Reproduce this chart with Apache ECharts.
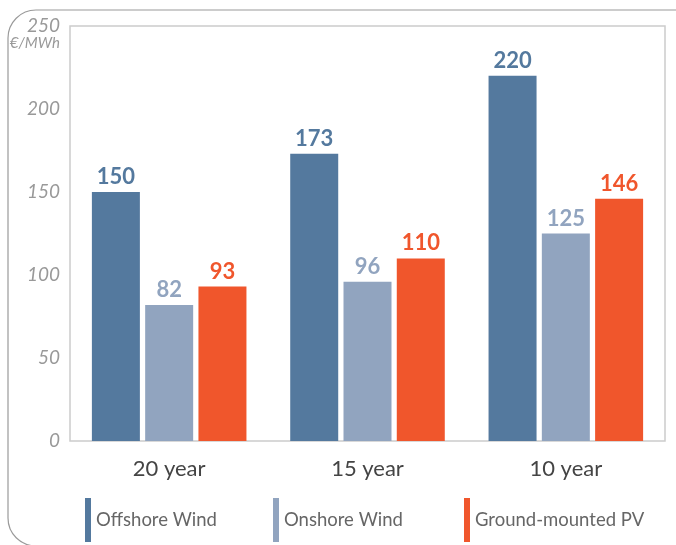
<!DOCTYPE html>
<html>
<head>
<meta charset="utf-8">
<script src="https://cdn.jsdelivr.net/npm/echarts@6/dist/echarts.min.js"></script>
<style>
  html, body { margin: 0; padding: 0; background: #fff; }
  #chart { width: 676px; height: 545px; }
</style>
</head>
<body>
<div id="chart"></div>
<script>
// categories and values
var periods = ['20 year', '15 year', '10 year'];
var offshoreWind = [150, 173, 220];
var onshoreWind = [82, 96, 125];
var groundPV = [93, 110, 146];
var seriesNames = ['Offshore Wind', 'Onshore Wind', 'Ground-mounted PV'];
var colors = ['#54799e', '#91a4bf', '#f0562c'];

var FONT = 'Lato, "Open Sans", sans-serif';

function bar(name, data, color) {
    return {
        name: name,
        type: 'bar',
        data: data,
        barWidth: 48,
        barGap: '11%',
        itemStyle: { color: color },
        label: {
            show: true,
            position: 'top',
            distance: 4,
            color: color,
            fontFamily: FONT,
            fontWeight: 'bold',
            fontSize: 22
        }
    };
}

// one legend per item so each sits where it sits in the picture
var legendLeft = [85, 273, 464];
var legends = seriesNames.map(function (n, i) {
    return {
        data: [n],
        left: legendLeft[i],
        top: 498,
        padding: 0,
        icon: 'rect',
        itemWidth: 6,
        itemHeight: 44,
        itemGap: 0,
        selectedMode: false,
        textStyle: { fontFamily: FONT, fontSize: 18.5, color: '#666' }
    };
});

var myChart = echarts.init(document.getElementById('chart'));
myChart.setOption({
    animation: false,
    color: colors,
    grid: {
        left: 70, right: 11, top: 26, bottom: 104,
        show: true,
        borderColor: '#cccccc',
        borderWidth: 1.5
    },
    legend: legends,
    graphic: [
        {
            type: 'rect',
            shape: { x: 8, y: 10, width: 700, height: 536, r: 28 },
            style: { fill: 'none', stroke: '#9a9a9a', lineWidth: 1.2 },
            silent: true
        },
        {
            type: 'text',
            right: 616,
            top: 36,
            style: {
                text: '€/MWh',
                font: 'italic 15px ' + FONT,
                fill: '#999',
                textAlign: 'right'
            }
        }
    ],
    xAxis: {
        type: 'category',
        data: periods,
        axisLine: { show: false },
        axisTick: { show: false },
        axisLabel: {
            margin: 17,
            fontFamily: FONT,
            fontSize: 22,
            color: '#444'
        }
    },
    yAxis: {
        type: 'value',
        min: 0,
        max: 250,
        interval: 50,
        splitLine: { show: false },
        axisLine: { show: false },
        axisTick: { show: false },
        axisLabel: {
            margin: 10,
            fontFamily: FONT,
            fontStyle: 'italic',
            fontSize: 19,
            color: '#999'
        }
    },
    series: [
        bar(seriesNames[0], offshoreWind, colors[0]),
        bar(seriesNames[1], onshoreWind, colors[1]),
        bar(seriesNames[2], groundPV, colors[2])
    ]
});
</script>
</body>
</html>
